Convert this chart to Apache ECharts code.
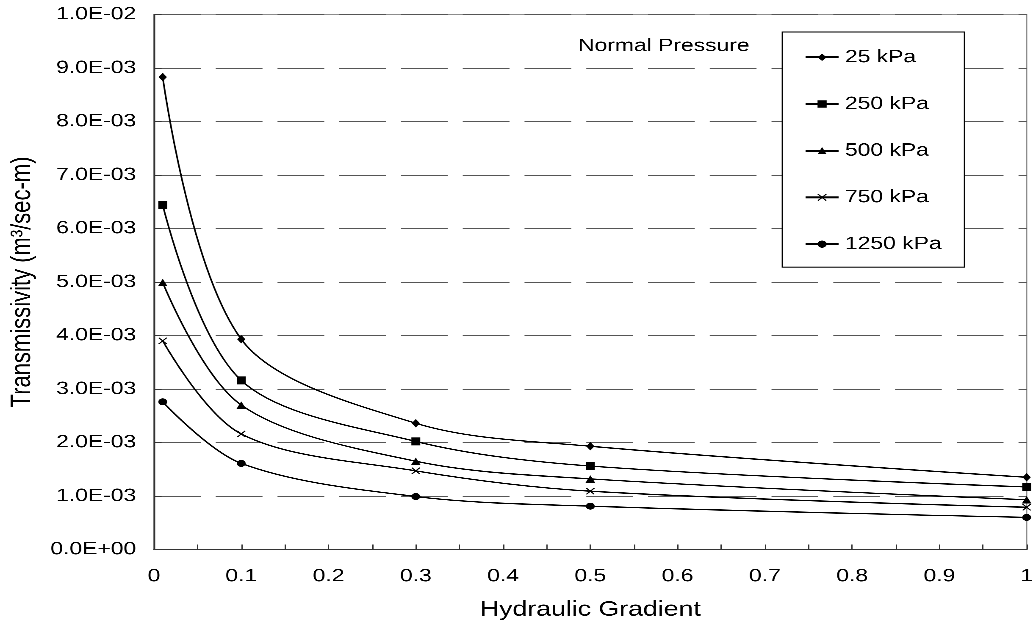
<!DOCTYPE html>
<html>
<head>
<meta charset="utf-8">
<script src="https://cdn.jsdelivr.net/npm/echarts@6/dist/echarts.min.js"></script>
<style>
  html, body { margin: 0; padding: 0; background: #fff; overflow: hidden; }
  #chart { width: 813px; height: 628px; transform: scaleX(1.270603); transform-origin: 0 0; }
</style>
</head>
<body>
<div id="chart"></div>
<script>
// Hydraulic gradient (x) values
const xValues = [0.01, 0.1, 0.3, 0.5, 1.0];
// Transmissivity (m3/sec-m) for each normal pressure
const seriesNames = ['25 kPa', '250 kPa', '500 kPa', '750 kPa', '1250 kPa'];
const t25   = [8.83e-3, 3.93e-3, 2.36e-3, 1.93e-3, 1.35e-3];
const t250  = [6.44e-3, 3.16e-3, 2.02e-3, 1.56e-3, 1.17e-3];
const t500  = [4.99e-3, 2.70e-3, 1.65e-3, 1.32e-3, 0.93e-3];
const t750  = [3.90e-3, 2.16e-3, 1.47e-3, 1.09e-3, 0.79e-3];
const t1250 = [2.76e-3, 1.61e-3, 0.99e-3, 0.81e-3, 0.60e-3];
const xTickLabels = ['0', '0.1', '0.2', '0.3', '0.4', '0.5', '0.6', '0.7', '0.8', '0.9', '1'];
const annotation = 'Normal Pressure';

const FONT = '"Liberation Sans", Arial, sans-serif';
const crossPath = 'path://M0,1L1,0L5,4L9,0L10,1L6,5L10,9L9,10L5,6L1,10L0,9L4,5Z';
const symbols = ['diamond', 'rect', 'triangle', crossPath, 'circle'];
const symbolSizes = [[6.5, 8.5], [7, 8], [7.5, 7.5], [7, 7], [7, 7]];
const allValues = [t25, t250, t500, t750, t1250];

function fmtExp(v) {
  if (Math.abs(v) < 1e-12) return '0.0E+00';
  const parts = v.toExponential(1).split('e');
  const n = parseInt(parts[1], 10);
  return parts[0] + 'E' + (n < 0 ? '-' : '+') + String(Math.abs(n)).padStart(2, '0');
}

const chart = echarts.init(document.getElementById('chart'), null, { renderer: 'canvas', devicePixelRatio: 3 });

const series = seriesNames.map((name, i) => ({
  name: name,
  type: 'line',
  smooth: 0.33,
  data: xValues.map((x, j) => [x, allValues[i][j]]),
  symbol: symbols[i],
  symbolSize: symbolSizes[i],
  showSymbol: true,
  color: '#000',
  lineStyle: { color: '#000', width: 1.3 },
  itemStyle: { color: '#000', borderWidth: 0 },
  emphasis: { disabled: true },
  z: 3
}));

chart.setOption({
  animation: false,
  backgroundColor: '#fff',
  textStyle: { fontFamily: FONT },
  grid: {
    left: 121.2, right: 5, top: 14.5, bottom: 78.5,
    show: true, borderColor: '#8c8c8c', borderWidth: 1,
    backgroundColor: 'transparent',
    outerBoundsMode: 'none'
  },
  xAxis: {
    type: 'value',
    min: 0, max: 1, interval: 0.1,
    name: 'Hydraulic Gradient',
    nameLocation: 'middle',
    nameGap: 50,
    nameTextStyle: { fontSize: 21, color: '#000', fontFamily: FONT },
    axisLine: { show: true, onZero: false, lineStyle: { color: '#333', width: 1.3 } },
    axisTick: { show: true, inside: true, length: 5, lineStyle: { color: '#333', width: 1 } },
    minorTick: { show: true, splitNumber: 2, length: 5, lineStyle: { color: '#333', width: 1 } },
    axisLabel: {
      margin: 18, fontSize: 18, color: '#000', fontFamily: FONT,
      formatter: function (v) { return xTickLabels[Math.round(v * 10)]; }
    },
    splitLine: { show: false }
  },
  yAxis: {
    type: 'value',
    min: 0, max: 0.01, interval: 0.001,
    name: 'Transmissivity (m³/sec-m)',
    nameLocation: 'middle',
    nameGap: 92,
    nameTextStyle: { fontSize: 22, color: '#000', fontFamily: FONT },
    axisLine: { show: true, onZero: false, lineStyle: { color: '#333', width: 1.3 } },
    axisTick: { show: true, inside: true, length: 6, lineStyle: { color: '#333', width: 1 } },
    axisLabel: { margin: 14, fontSize: 18, color: '#000', fontFamily: FONT, formatter: fmtExp },
    splitLine: { show: true, lineStyle: { color: '#555', width: 1, type: [36.8, 11.8], dashOffset: 0 } }
  },
  legend: {
    show: true,
    orient: 'vertical',
    left: 615.7, top: 32,
    padding: [16.3, 18, 14, 17.3],
    itemGap: 28.7,
    itemWidth: 26,
    itemHeight: 9,
    selectedMode: false,
    backgroundColor: '#fff',
    borderColor: '#000',
    borderWidth: 1,
    textStyle: { fontSize: 18, lineHeight: 18, color: '#000', fontFamily: FONT },
    data: seriesNames
  },
  graphic: [{
    type: 'text',
    left: 454.9,
    top: 37,
    style: { text: annotation, fontSize: 18, fill: '#000', fontFamily: FONT }
  }],
  series: series
});
</script>
</body>
</html>
